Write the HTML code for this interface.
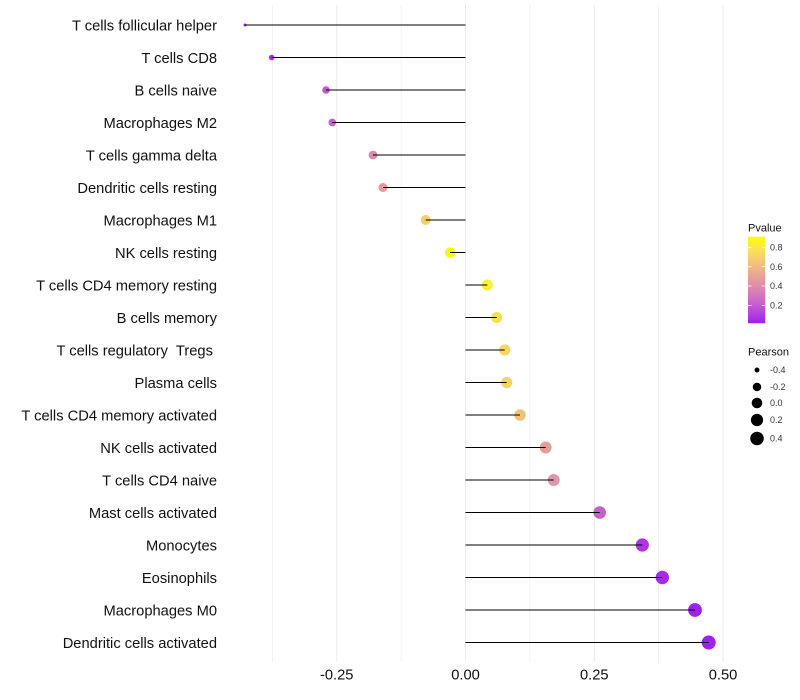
<!DOCTYPE html>
<html>
<head>
<meta charset="utf-8">
<style>
  html,body{margin:0;padding:0;background:#fff;}
  svg{display:block;}
  text{font-family:"Liberation Sans", Arial, sans-serif;}
</style>
</head>
<body>
<svg width="800" height="700" viewBox="0 0 800 700" xmlns="http://www.w3.org/2000/svg">
  <defs>
    <linearGradient id="pg" x1="0" y1="0" x2="0" y2="1">
      <stop offset="0" stop-color="#ffff00"/>
      <stop offset="0.125" stop-color="#fbe64c"/>
      <stop offset="0.25" stop-color="#f6ce70"/>
      <stop offset="0.375" stop-color="#eeb489"/>
      <stop offset="0.5" stop-color="#e59aa0"/>
      <stop offset="0.625" stop-color="#d981b6"/>
      <stop offset="0.75" stop-color="#cb66c9"/>
      <stop offset="0.875" stop-color="#b645dd"/>
      <stop offset="1" stop-color="#a020f0"/>
    </linearGradient>
  </defs>
  <rect width="800" height="700" fill="#fff"/>

  <!-- grid -->
  <g stroke="#ebebeb">
    <line x1="272.4" y1="5" x2="272.4" y2="662" stroke-width="0.6"/>
    <line x1="401.1" y1="5" x2="401.1" y2="662" stroke-width="0.6"/>
    <line x1="529.9" y1="5" x2="529.9" y2="662" stroke-width="0.6"/>
    <line x1="658.6" y1="5" x2="658.6" y2="662" stroke-width="0.6"/>
    <line x1="336.75" y1="5" x2="336.75" y2="662" stroke-width="1"/>
    <line x1="465.5" y1="5" x2="465.5" y2="662" stroke-width="1"/>
    <line x1="594.25" y1="5" x2="594.25" y2="662" stroke-width="1"/>
    <line x1="723" y1="5" x2="723" y2="662" stroke-width="1"/>
  </g>

  <!-- points -->
  <g>
    <circle cx="245" cy="25" r="1.5" fill="#a020f0"/>
    <circle cx="271.7" cy="57.5" r="2.8" fill="#a82fe8"/>
    <circle cx="326" cy="90" r="3.8" fill="#c35bd0"/>
    <circle cx="332.3" cy="122.5" r="3.85" fill="#c462cc"/>
    <circle cx="373" cy="155" r="4.4" fill="#d98aae"/>
    <circle cx="383" cy="187.5" r="4.5" fill="#e39a9e"/>
    <circle cx="425.7" cy="220" r="4.95" fill="#f5d068"/>
    <circle cx="450" cy="252.5" r="5.15" fill="#ffff00"/>
    <circle cx="487.3" cy="285" r="5.5" fill="#faef30"/>
    <circle cx="496.7" cy="317.5" r="5.55" fill="#f8e04a"/>
    <circle cx="504.7" cy="350" r="5.6" fill="#f6d760"/>
    <circle cx="506.7" cy="382.5" r="5.65" fill="#f5d462"/>
    <circle cx="520" cy="415" r="5.75" fill="#f2c274"/>
    <circle cx="545.7" cy="447.5" r="5.95" fill="#e79c9c"/>
    <circle cx="553.7" cy="480" r="6" fill="#e197aa"/>
    <circle cx="599.7" cy="512.5" r="6.3" fill="#c45fcb"/>
    <circle cx="642.3" cy="545" r="6.6" fill="#b033e6"/>
    <circle cx="662.3" cy="577.5" r="6.7" fill="#a829ea"/>
    <circle cx="695" cy="610" r="6.9" fill="#a020f0"/>
    <circle cx="708.7" cy="642.5" r="7" fill="#a020f0"/>
  </g>

  <!-- segments -->
  <g stroke="#000" stroke-width="1">
    <line x1="465.5" y1="25" x2="245" y2="25"/>
    <line x1="465.5" y1="57.5" x2="271.7" y2="57.5"/>
    <line x1="465.5" y1="90" x2="326" y2="90"/>
    <line x1="465.5" y1="122.5" x2="332.3" y2="122.5"/>
    <line x1="465.5" y1="155" x2="373" y2="155"/>
    <line x1="465.5" y1="187.5" x2="383" y2="187.5"/>
    <line x1="465.5" y1="220" x2="425.7" y2="220"/>
    <line x1="465.5" y1="252.5" x2="450" y2="252.5"/>
    <line x1="465.5" y1="285" x2="487.3" y2="285"/>
    <line x1="465.5" y1="317.5" x2="496.7" y2="317.5"/>
    <line x1="465.5" y1="350" x2="504.7" y2="350"/>
    <line x1="465.5" y1="382.5" x2="506.7" y2="382.5"/>
    <line x1="465.5" y1="415" x2="520" y2="415"/>
    <line x1="465.5" y1="447.5" x2="545.7" y2="447.5"/>
    <line x1="465.5" y1="480" x2="553.7" y2="480"/>
    <line x1="465.5" y1="512.5" x2="599.7" y2="512.5"/>
    <line x1="465.5" y1="545" x2="642.3" y2="545"/>
    <line x1="465.5" y1="577.5" x2="662.3" y2="577.5"/>
    <line x1="465.5" y1="610" x2="695" y2="610"/>
    <line x1="465.5" y1="642.5" x2="708.7" y2="642.5"/>
  </g>

  <!-- y labels -->
  <g font-size="14.7" fill="#111" text-anchor="end" style="white-space:pre">
    <text x="217" y="30.3">T cells follicular helper</text>
    <text x="217" y="62.8">T cells CD8</text>
    <text x="217" y="95.3">B cells naive</text>
    <text x="217" y="127.8">Macrophages M2</text>
    <text x="217" y="160.3">T cells gamma delta</text>
    <text x="217" y="192.8">Dendritic cells resting</text>
    <text x="217" y="225.3">Macrophages M1</text>
    <text x="217" y="257.8">NK cells resting</text>
    <text x="217" y="290.3">T cells CD4 memory resting</text>
    <text x="217" y="322.8">B cells memory</text>
    <text x="217" y="355.3" xml:space="preserve">T cells regulatory  Tregs </text>
    <text x="217" y="387.8">Plasma cells</text>
    <text x="217" y="420.3">T cells CD4 memory activated</text>
    <text x="217" y="452.8">NK cells activated</text>
    <text x="217" y="485.3">T cells CD4 naive</text>
    <text x="217" y="517.8">Mast cells activated</text>
    <text x="217" y="550.3">Monocytes</text>
    <text x="217" y="582.8">Eosinophils</text>
    <text x="217" y="615.3">Macrophages M0</text>
    <text x="217" y="647.8">Dendritic cells activated</text>
  </g>

  <!-- x labels -->
  <g font-size="14.7" fill="#111" text-anchor="middle">
    <text x="336.75" y="679.5">-0.25</text>
    <text x="465.5" y="679.5">0.00</text>
    <text x="594.25" y="679.5">0.25</text>
    <text x="723" y="679.5">0.50</text>
  </g>

  <!-- Pvalue legend -->
  <text x="748" y="231.5" font-size="11" fill="#111">Pvalue</text>
  <rect x="748" y="236.7" width="17.3" height="86.6" fill="url(#pg)"/>
  <g stroke="#fff" stroke-width="0.8">
    <line x1="748" y1="247.3" x2="751.5" y2="247.3"/><line x1="761.8" y1="247.3" x2="765.3" y2="247.3"/>
    <line x1="748" y1="266.7" x2="751.5" y2="266.7"/><line x1="761.8" y1="266.7" x2="765.3" y2="266.7"/>
    <line x1="748" y1="286" x2="751.5" y2="286"/><line x1="761.8" y1="286" x2="765.3" y2="286"/>
    <line x1="748" y1="305.5" x2="751.5" y2="305.5"/><line x1="761.8" y1="305.5" x2="765.3" y2="305.5"/>
  </g>
  <g font-size="9" fill="#333">
    <text x="770" y="250.5">0.8</text>
    <text x="770" y="269.9">0.6</text>
    <text x="770" y="289.2">0.4</text>
    <text x="770" y="308.7">0.2</text>
  </g>

  <!-- Pearson legend -->
  <text x="748" y="355.5" font-size="11" fill="#111">Pearson</text>
  <g fill="#000">
    <circle cx="757" cy="370" r="2.45"/>
    <circle cx="757" cy="387" r="4.25"/>
    <circle cx="757" cy="403" r="5.3"/>
    <circle cx="757" cy="420" r="6.1"/>
    <circle cx="757" cy="438.5" r="6.75"/>
  </g>
  <g font-size="9" fill="#333">
    <text x="770" y="373.2">-0.4</text>
    <text x="770" y="390.2">-0.2</text>
    <text x="770" y="406.2">0.0</text>
    <text x="770" y="423.2">0.2</text>
    <text x="770" y="441.7">0.4</text>
  </g>
</svg>
</body>
</html>
